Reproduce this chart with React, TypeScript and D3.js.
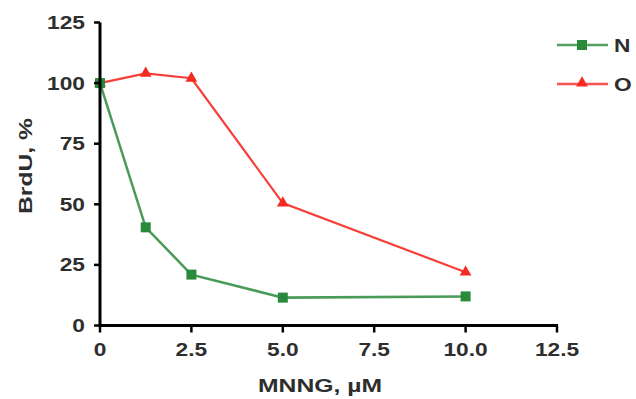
import React from "react";
import * as d3 from "d3";

const doses = [0, 1.25, 2.5, 5, 10];
const seriesN = [100, 40.5, 21, 11.5, 12];
const seriesO = [100, 104, 102, 50.5, 22];
const xTicks = [0, 2.5, 5, 7.5, 10, 12.5];
const yTicks = [0, 25, 50, 75, 100, 125];
const seriesNames = ["N", "O"];

const W = 636, H = 399;
const x = d3.scaleLinear().domain([0, 12.5]).range([100, 557]);
const y = d3.scaleLinear().domain([0, 125]).range([325.5, 22.5]);

const GREEN = "#2a8a3c";
const RED = "#f52a22";
const TEXT = "#2e2e2e";
const FONT = "'Liberation Sans', Arial, sans-serif";
const SX = 1.3;

function T(props: { x: number; y: number; anchor?: string; size: number; children: React.ReactNode; rotate?: number }) {
  const { x: tx, y: ty, anchor = "start", size, children, rotate = 0 } = props;
  return (
    <text
      transform={`translate(${tx},${ty}) rotate(${rotate}) scale(${SX},1)`}
      textAnchor={anchor}
      fontSize={size}
      fontWeight="bold"
      fill={TEXT}
    >
      {children}
    </text>
  );
}

export default function App() {
  const line = d3.line<number>().x((_, i) => x(doses[i])).y((d) => y(d));
  const tri = d3.symbol().type(d3.symbolTriangle).size(60)();
  return (
    <svg width={W} height={H} style={{ position: "absolute", left: 0, top: 0 }} fontFamily={FONT}>
      <rect width={W} height={H} fill="#fff" />
      {/* series */}
      <path d={line(seriesN) || ""} fill="none" stroke={GREEN} strokeWidth={2.5} opacity={0.85} />
      <path d={line(seriesO) || ""} fill="none" stroke={RED} strokeWidth={2.2} opacity={0.9} />
      {seriesO.map((v, i) => (
        <path key={"o" + i} d={tri} transform={`translate(${x(doses[i])},${y(v)})`} fill={RED} />
      ))}
      {seriesN.map((v, i) => (
        <rect key={"n" + i} x={x(doses[i]) - 5} y={y(v) - 5} width={10} height={10} fill={GREEN} />
      ))}
      {/* axes */}
      <line x1={x(0)} x2={x(0)} y1={y(125)} y2={y(0) + 1.5} stroke="#000" strokeWidth={3} />
      <line x1={x(0) - 1.5} x2={x(12.5) + 1} y1={y(0)} y2={y(0)} stroke="#000" strokeWidth={3} />
      {yTicks.map((t) => (
        <g key={"y" + t}>
          <line x1={x(0) - 6} x2={x(0)} y1={y(t)} y2={y(t)} stroke="#000" strokeWidth={2.5} />
          <T x={x(0) - 15} y={y(t) + 6.5} anchor="end" size={17.5}>
            {t}
          </T>
        </g>
      ))}
      {xTicks.map((t) => (
        <g key={"x" + t}>
          <line x1={x(t)} x2={x(t)} y1={y(0)} y2={y(0) + 7} stroke="#000" strokeWidth={2.5} />
          <T x={x(t)} y={y(0) + 30} anchor="middle" size={17.5}>
            {t === 0 ? "0" : t.toFixed(1)}
          </T>
        </g>
      ))}
      <T x={320} y={392} anchor="middle" size={19}>
        MNNG, µM
      </T>
      <T x={32} y={166} anchor="middle" size={19} rotate={-90}>
        BrdU, %
      </T>
      {/* legend */}
      {seriesNames.map((name, i) => {
        const ly = 45 + i * 39;
        const c = i === 0 ? GREEN : RED;
        return (
          <g key={name}>
            <line x1={557} x2={608} y1={ly} y2={ly} stroke={c} strokeWidth={2.5} opacity={0.8} />
            {i === 0 ? (
              <rect x={577} y={ly - 5} width={10} height={10} fill={c} />
            ) : (
              <path d={tri} transform={`translate(582,${ly - 1})`} fill={c} />
            )}
            <T x={614} y={ly + 7} size={17.5}>
              {name}
            </T>
          </g>
        );
      })}
    </svg>
  );
}
